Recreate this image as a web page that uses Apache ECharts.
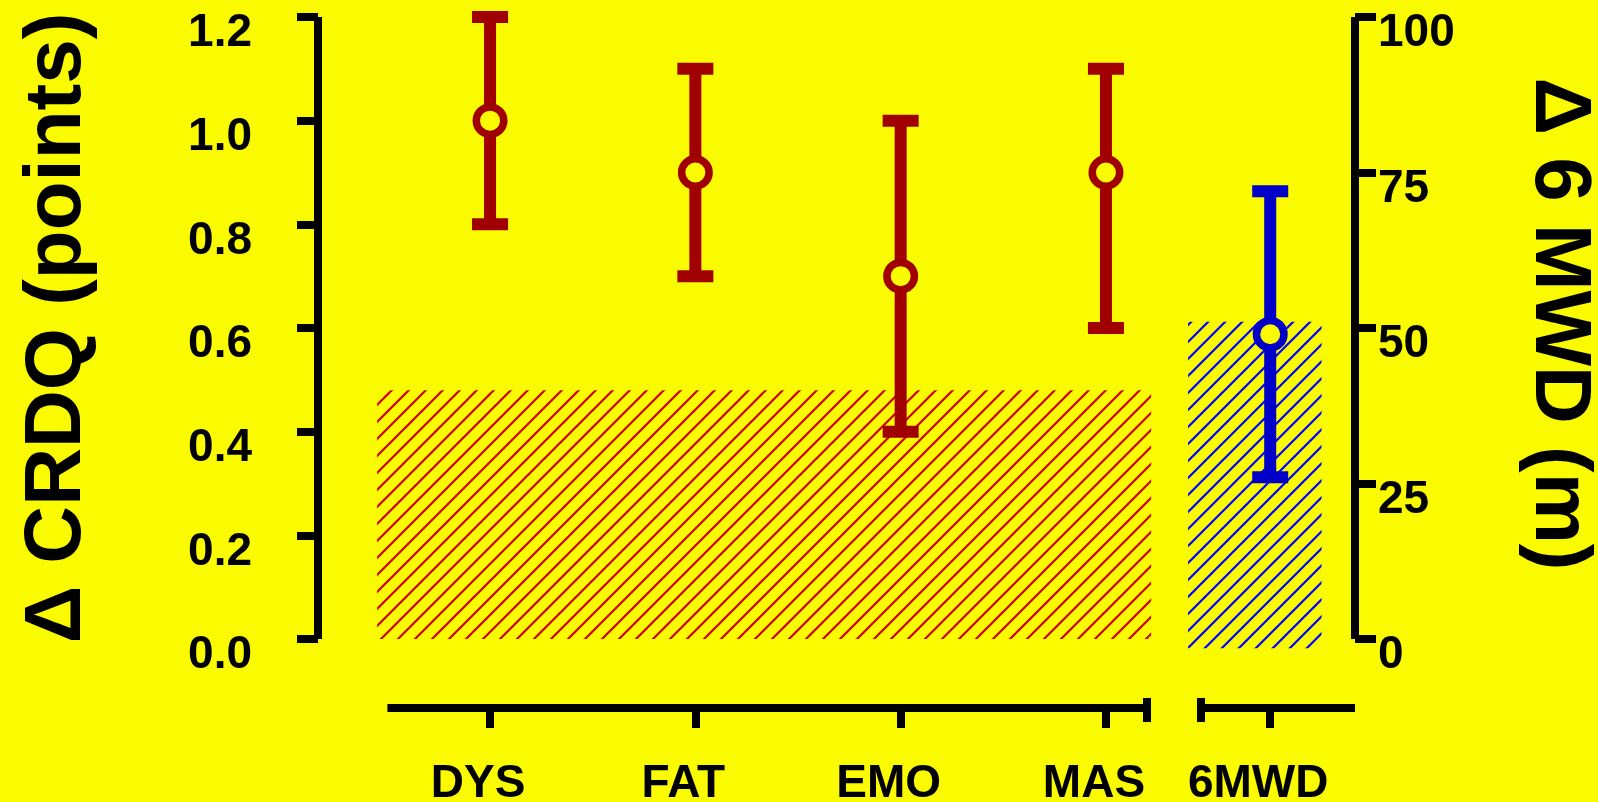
<!DOCTYPE html>
<html><head><meta charset="utf-8">
<script src="https://cdn.jsdelivr.net/npm/echarts@6/dist/echarts.min.js"></script>
<style>html,body{margin:0;padding:0;background:#FAFA00}#c{width:1598px;height:802px}</style>
</head><body><div id="c"></div>
<script>
// ---- data ----
const categories = ['DYS', 'FAT', 'EMO', 'MAS', '6MWD'];
const catPos = [1, 2, 3, 4, 4.8];
const crdqMean = [1.0, 0.9, 0.7, 0.9];
const crdqLow = [0.8, 0.7, 0.4, 0.6];
const crdqHigh = [1.2, 1.1, 1.0, 1.1];
const mwdMean = [49];
const mwdLow = [26];
const mwdHigh = [72];
const leftTickLabels = ['0.0', '0.2', '0.4', '0.6', '0.8', '1.0', '1.2'];
const rightTickLabels = ['0', '25', '50', '75', '100'];
// hatched reference regions: [x0, x1, y0, y1]
const crdqBand = [0.45, 4.22, 0, 0.48];
const mwdBand = [4.40, 5.05, -1.5, 51];
const leftTitle = 'Δ CRDQ (points)';
const rightTitle = 'Δ 6 MWD (m)';

// ---- layout ----
const BG = '#FAFA00';
const FONT = '"Liberation Sans", Arial, Helvetica, sans-serif';
const XMIN = 0.162, XMAX = 5.213;
const G = {left: 318, right: 243, top: 17, bottom: 163};
const W = 1598;
const plotW = W - G.left - G.right;
const ppu = plotW / (XMAX - XMIN);
const seg1 = [0.5, 4.2], seg2 = [4.46, XMAX];
const pxOf = v => G.left + (v - XMIN) * ppu;

const chart = echarts.init(document.getElementById('c'), null, {renderer: 'canvas'});

function makeHatch(color) {
  const s = 17;
  const c = document.createElement('canvas');
  c.width = s; c.height = s;
  const g = c.getContext('2d');
  g.strokeStyle = color; g.lineWidth = 2.2; g.lineCap = 'butt';
  g.beginPath();
  g.moveTo(-2, s + 2); g.lineTo(s + 2, -2);
  g.moveTo(-3, 3); g.lineTo(3, -3);
  g.moveTo(s - 3, s + 3); g.lineTo(s + 3, s - 3);
  g.stroke();
  return {image: c, repeat: 'repeat'};
}

function hatchItem(pattern) {
  return function (params, api) {
    const p0 = api.coord([api.value(0), api.value(3)]);
    const p1 = api.coord([api.value(1), api.value(2)]);
    return {type: 'rect', shape: {x: p0[0], y: p0[1], width: p1[0] - p0[0], height: p1[1] - p0[1]},
      style: {fill: pattern, stroke: null}};
  };
}

function errorBarItem(color) {
  return function (params, api) {
    const x = api.value(0), m = api.value(1), lo = api.value(2), hi = api.value(3);
    const pm = api.coord([x, m]), pl = api.coord([x, lo]), ph = api.coord([x, hi]);
    const hw = 18, lw = 12;
    return {type: 'group', children: [
      {type: 'line', shape: {x1: pl[0], y1: pl[1], x2: ph[0], y2: ph[1]}, style: {stroke: color, lineWidth: lw}},
      {type: 'line', shape: {x1: ph[0] - hw, y1: ph[1], x2: ph[0] + hw, y2: ph[1]}, style: {stroke: color, lineWidth: lw}},
      {type: 'line', shape: {x1: pl[0] - hw, y1: pl[1], x2: pl[0] + hw, y2: pl[1]}, style: {stroke: color, lineWidth: lw}},
      {type: 'circle', shape: {cx: pm[0], cy: pm[1], r: 13.75}, style: {fill: BG, stroke: color, lineWidth: 7.5}}
    ]};
  };
}

const crdqData = crdqMean.map((m, i) => [catPos[i], m, crdqLow[i], crdqHigh[i]]);
const mwdData = mwdMean.map((m, i) => [catPos[4 + i], m, mwdLow[i], mwdHigh[i]]);

const black = '#000';
const labelFont = {color: black, fontSize: 46, fontWeight: 'bold', fontFamily: FONT};
const catLabel = v => { const i = catPos.findIndex(p => Math.abs(p - v) < 1e-6); return i >= 0 ? categories[i] : ''; };

function bottomXAxis(gridIndex, range, ticks) {
  return {
    type: 'value', gridIndex, min: range[0], max: range[1],
    axisLine: {show: true, onZero: true, lineStyle: {color: black, width: 8, cap: 'butt'}},
    axisTick: {show: true, customValues: ticks, length: 20, lineStyle: {color: black, width: 8}},
    axisLabel: Object.assign({show: true, customValues: ticks, margin: 39, padding: [0, 24, 0, 0], formatter: catLabel}, labelFont),
    splitLine: {show: false}
  };
}
function capYAxis(gridIndex, position) {
  return {
    type: 'value', gridIndex, min: -14, max: 10, position,
    axisLine: {show: true, onZero: false, lineStyle: {color: black, width: 8, cap: 'butt'}},
    axisTick: {show: false}, axisLabel: {show: false}, splitLine: {show: false}
  };
}

const option = {
  backgroundColor: BG,
  animation: false,
  textStyle: {fontFamily: FONT},
  grid: [
    {left: G.left, right: G.right, top: G.top, bottom: G.bottom, outerBoundsMode: 'none', containLabel: false},
    {left: pxOf(seg1[0]), width: (seg1[1] - seg1[0]) * ppu, top: 698, height: 24, outerBoundsMode: 'none', containLabel: false},
    {left: pxOf(seg2[0]), width: (seg2[1] - seg2[0]) * ppu, top: 698, height: 24, outerBoundsMode: 'none', containLabel: false}
  ],
  xAxis: [
    {type: 'value', gridIndex: 0, min: XMIN, max: XMAX, show: false},
    bottomXAxis(1, seg1, catPos.slice(0, 4)),
    bottomXAxis(2, seg2, catPos.slice(4))
  ],
  yAxis: [
    {
      type: 'value', gridIndex: 0, min: 0, max: 1.2, interval: 0.2, position: 'left',
      axisLine: {show: true, onZero: false, lineStyle: {color: black, width: 8, cap: 'butt'}},
      axisTick: {show: true, length: 21, lineStyle: {color: black, width: 8}},
      axisLabel: Object.assign({margin: 66, verticalAlign: 'top', lineHeight: 33, formatter: (v) => leftTickLabels[Math.round(v / 0.2)]}, labelFont),
      splitLine: {show: false},
      name: leftTitle, nameLocation: 'middle', nameRotate: 90, nameGap: 220,
      nameTextStyle: {color: black, fontSize: 80, fontWeight: 'bold', fontFamily: FONT}
    },
    {
      type: 'value', gridIndex: 0, min: 0, max: 100, interval: 25, position: 'right',
      axisLine: {show: true, onZero: false, lineStyle: {color: black, width: 8, cap: 'butt'}},
      axisTick: {show: true, length: 21, lineStyle: {color: black, width: 8}},
      axisLabel: Object.assign({margin: 23, verticalAlign: 'top', lineHeight: 33, formatter: (v) => rightTickLabels[Math.round(v / 25)]}, labelFont),
      splitLine: {show: false},
      name: rightTitle, nameLocation: 'middle', nameRotate: -90, nameGap: 163,
      nameTextStyle: {color: black, fontSize: 80, fontWeight: 'bold', fontFamily: FONT, padding: [0, 8, 0, 0]}
    },
    capYAxis(1, 'right'),
    capYAxis(2, 'left')
  ],
  series: [
    {type: 'custom', xAxisIndex: 0, yAxisIndex: 0, z: 1, renderItem: hatchItem(makeHatch('#D00000')), data: [crdqBand]},
    {type: 'custom', xAxisIndex: 0, yAxisIndex: 1, z: 1, renderItem: hatchItem(makeHatch('#0000FF')), data: [mwdBand]},
    {type: 'custom', xAxisIndex: 0, yAxisIndex: 0, z: 3, renderItem: errorBarItem('#A00000'), data: crdqData},
    {type: 'custom', xAxisIndex: 0, yAxisIndex: 1, z: 3, renderItem: errorBarItem('#0000C8'), data: mwdData}
  ]
};
chart.setOption(option);
</script></body></html>
